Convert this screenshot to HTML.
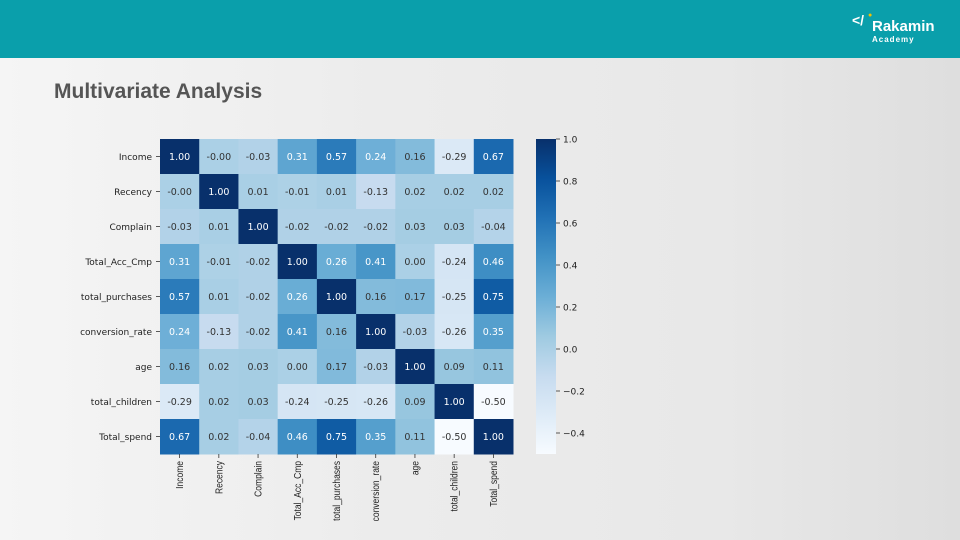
<!DOCTYPE html>
<html><head><meta charset="utf-8"><style>
body{margin:0;width:960px;height:540px;overflow:hidden;background:#f1f2f3;font-family:"Liberation Sans",sans-serif;position:relative}
#hdr{position:absolute;left:0;top:0;width:960px;height:58px;background:#0a9fab}
#logo{position:absolute;left:852px;top:12px;color:#fff}
#title{position:absolute;left:54px;top:80px;font-size:21px;font-weight:bold;color:#555}
#bg{position:absolute;left:0;top:58px;width:960px;height:482px;background:linear-gradient(90deg,#f5f5f5 0%,#ececec 40%,#e8e8e8 75%,#dedede 100%)}
svg{position:absolute;left:0;top:0}
</style></head><body>
<div id="bg"></div>
<div id="hdr"></div>
<div id="logo"><span style="font-weight:bold;font-size:14px;position:absolute;left:0;top:0;white-space:nowrap">&lt;/</span><span style="position:absolute;left:16px;top:0px;color:#f5c000;font-size:7px">●</span><span style="position:absolute;left:20px;top:6px;font-size:15px;font-weight:bold">Rakamin</span><span style="position:absolute;left:20px;top:23px;font-size:8px;font-weight:bold;letter-spacing:1px">Academy</span></div>
<div id="title">Multivariate Analysis</div>
<svg id="chart" width="960" height="540"></svg>
<script>
const labels=["Income","Recency","Complain","Total_Acc_Cmp","total_purchases","conversion_rate","age","total_children","Total_spend"];
const row0=[1.00,-0.00,-0.03,0.31,0.57,0.24,0.16,-0.29,0.67];
const row1=[-0.00,1.00,0.01,-0.01,0.01,-0.13,0.02,0.02,0.02];
const row2=[-0.03,0.01,1.00,-0.02,-0.02,-0.02,0.03,0.03,-0.04];
const row3=[0.31,-0.01,-0.02,1.00,0.26,0.41,0.00,-0.24,0.46];
const row4=[0.57,0.01,-0.02,0.26,1.00,0.16,0.17,-0.25,0.75];
const row5=[0.24,-0.13,-0.02,0.41,0.16,1.00,-0.03,-0.26,0.35];
const row6=[0.16,0.02,0.03,0.00,0.17,-0.03,1.00,0.09,0.11];
const row7=[-0.29,0.02,0.03,-0.24,-0.25,-0.26,0.09,1.00,-0.50];
const row8=[0.67,0.02,-0.04,0.46,0.75,0.35,0.11,-0.50,1.00];
const matrix=[row0,row1,row2,row3,row4,row5,row6,row7,row8];
const cbTicks=[1.0,0.8,0.6,0.4,0.2,0.0,-0.2,-0.4];
const cbLabels=["1.0","0.8","0.6","0.4","0.2","0.0","\u22120.2","\u22120.4"];
const vmin=-0.5,vmax=1.0;
const X0=160,Y0=139,W=353,H=315,n=labels.length,cw=W/n,ch=H/n;
const CBX=536,CBW=20;
const stops=[[247,251,255],[222,235,247],[198,219,239],[158,202,225],[107,174,214],[66,146,198],[33,113,181],[8,81,156],[8,48,107]];
function cmap(v){let t=Math.max(0,Math.min(1,(v-vmin)/(vmax-vmin)))*8;let i=Math.min(7,Math.floor(t)),f=t-i;const a=stops[i],b=stops[i+1];return a.map((c,k)=>Math.round(c+(b[k]-c)*f));}
function lum(c){const l=c.map(x=>{x/=255;return x<=0.03928?x/12.92:Math.pow((x+0.055)/1.055,2.4)});return 0.2126*l[0]+0.7152*l[1]+0.0722*l[2];}
function fmt(v){return (Object.is(v,-0)?'-':'')+v.toFixed(2);}
function xs(j){return X0+j*cw;} function ys(i){return Y0+i*ch;}
function cy(v){return Y0+H-(v-vmin)/(vmax-vmin)*H;}
const svg=document.getElementById('chart');const NS="http://www.w3.org/2000/svg";
function mk(t,a,p){const e=document.createElementNS(NS,t);for(const k in a)e.setAttribute(k,a[k]);(p||svg).appendChild(e);return e;}
matrix.forEach((row,i)=>row.forEach((v,j)=>{
 const c=cmap(v);
 const r=mk('rect',{x:xs(j),y:ys(i),width:cw+0.5,height:ch+0.5,fill:`rgb(${c})`});
 
 
 const t=mk('text',{x:xs(j)+cw/2,y:ys(i)+ch/2+3.5,'text-anchor':'middle','font-size':'9.5',fill:lum(c)<0.408?'#fff':'#333','font-family':'DejaVu Sans, sans-serif'});
 t.textContent=fmt(v);
 
 
}));
labels.forEach((l,i)=>{
 const t=mk('text',{x:X0-8,y:ys(i)+ch/2+3.5,'text-anchor':'end','font-size':'9','fill':'#222','font-family':'DejaVu Sans, sans-serif'});
 t.textContent=l;
 
 
 mk('line',{x1:X0-4,x2:X0,y1:ys(i)+ch/2,y2:ys(i)+ch/2,stroke:'#333','stroke-width':0.8});
 const xx=xs(i)+cw/2;
 mk('line',{x1:xx,x2:xx,y1:Y0+H,y2:Y0+H+4,stroke:'#333','stroke-width':0.8});
 const u=mk('text',{x:0,y:0,'text-anchor':'end','font-size':'10','fill':'#222','font-family':'Liberation Sans Narrow, Liberation Sans, sans-serif',transform:`translate(${xx+3.5},${Y0+H+7}) rotate(-90) scale(0.85,1)`});
 u.textContent=l;
 
 
});
const defs=mk('defs',{});const g=mk('linearGradient',{id:'cb',x1:0,y1:1,x2:0,y2:0},defs);
for(let k=0;k<=8;k++)mk('stop',{offset:k/8,'stop-color':`rgb(${stops[k]})`},g);
const cb=mk('rect',{x:CBX,y:Y0,width:CBW,height:H,fill:'url(#cb)'});


cbTicks.forEach((v,k)=>{
 mk('line',{x1:CBX+CBW,x2:CBX+CBW+4,y1:cy(v),y2:cy(v),stroke:'#333','stroke-width':0.8});
 const t=mk('text',{x:CBX+CBW+7,y:cy(v)+3.5,'font-size':'9','fill':'#222','font-family':'DejaVu Sans, sans-serif'});
 t.textContent=cbLabels[k];
 
 
});
</script>
</body></html>
